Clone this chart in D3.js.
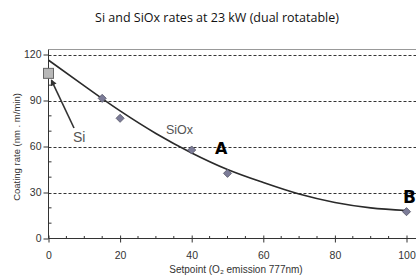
<!DOCTYPE html>
<html><head><meta charset="utf-8">
<script src="https://cdn.jsdelivr.net/npm/d3@7/dist/d3.min.js"></script>
<style>body{margin:0;background:#fff}svg{display:block}</style>
</head><body>
<svg id="c" width="416" height="277"></svg>
<script>
// Data
const siPoint = [{x: 0, y: 107.7}];
const siOxX = [15, 20, 40, 50, 100];
const siOxY = [91.4, 78.4, 57.7, 42.5, 17.5];
const fitX = [0, 10, 15, 20, 30, 40, 50, 60, 70, 80, 90, 100];
const fitY = [116.3, 99.5, 91.2, 83.2, 68.5, 55.8, 45, 36.5, 29, 23.5, 20, 18.3];
const xTicks = [0, 20, 40, 60, 80, 100];
const yTicks = [0, 30, 60, 90, 120];
const yGrid = [30, 60, 90, 120];
const xMinor = d3.range(0, 101, 5);
const yMinor = d3.range(0, 121, 10);

const svg = d3.select("#c");
const x = d3.scaleLinear().domain([0, 100]).range([48.5, 406.5]);
const y = d3.scaleLinear().domain([0, 120]).range([238.5, 54.5]);
const pLeft = 48.5, pRight = 416, pTop = 49.5;

// title
svg.append("text").attr("x", 217).attr("y", 22).attr("text-anchor", "middle")
  .attr("font-family", "Open Sans").attr("font-size", 12.5).attr("fill", "#111")
  .text("Si and SiOx rates at 23 kW (dual rotatable)");

// top border
svg.append("line").attr("x1", pLeft).attr("x2", pRight).attr("y1", pTop).attr("y2", pTop)
  .attr("stroke", "#999").attr("stroke-width", 1);

// gridlines
svg.append("g").selectAll("line").data(yGrid).join("line")
  .attr("x1", pLeft).attr("x2", pRight)
  .attr("y1", d => Math.round(y(d)) + 0.5).attr("y2", d => Math.round(y(d)) + 0.5)
  .attr("stroke", "#333").attr("stroke-dasharray", "3,2").attr("stroke-width", 1);

// y axis
const gy = svg.append("g").attr("transform", `translate(${pLeft},0)`)
  .call(d3.axisLeft(y).tickValues(yTicks).tickSize(5).tickPadding(2));
gy.select(".domain").attr("d", `M0,${pTop}V${y(0)}`).attr("stroke", "#333");
gy.selectAll(".tick line").attr("stroke", "#333");
gy.selectAll(".tick text").attr("font-family", "Arial, Liberation Sans").attr("font-size", 10.5).attr("fill", "#333");
svg.append("g").selectAll("line").data(yMinor.filter(d => !yTicks.includes(d))).join("line")
  .attr("x1", pLeft).attr("x2", pLeft + 3).attr("y1", d => y(d)).attr("y2", d => y(d))
  .attr("stroke", "#333");

// x axis
const gx = svg.append("g").attr("transform", `translate(0,${y(0)})`)
  .call(d3.axisBottom(x).tickValues(xTicks).tickSize(4).tickPadding(9));
gx.select(".domain").attr("d", `M${pLeft},0H${pRight}`).attr("stroke", "#333");
gx.selectAll(".tick line").attr("y1", -3).attr("stroke", "#333");
gx.selectAll(".tick text").attr("font-family", "Arial, Liberation Sans").attr("font-size", 10.5).attr("fill", "#333");
svg.append("g").selectAll("line").data(xMinor.filter(d => !xTicks.includes(d))).join("line")
  .attr("x1", d => x(d)).attr("x2", d => x(d)).attr("y1", y(0)).attr("y2", y(0) - 2.5)
  .attr("stroke", "#333");

// axis titles
svg.append("text").attr("transform", "translate(20,147) rotate(-90)").attr("text-anchor", "middle")
  .attr("font-family", "Arial, Liberation Sans").attr("font-size", 9.5).attr("fill", "#333")
  .text("Coating rate (nm . m/min)");
svg.append("text").attr("x", 236).attr("y", 273).attr("text-anchor", "middle")
  .attr("font-family", "Arial, Liberation Sans").attr("font-size", 10).attr("fill", "#333")
  .text("Setpoint (O₂ emission 777nm)");

// fit curve
const fit = fitX.map((d, i) => ({x: d, y: fitY[i]}));
svg.append("path").datum(fit)
  .attr("d", d3.line().x(d => x(d.x)).y(d => y(d.y)).curve(d3.curveMonotoneX))
  .attr("fill", "none").attr("stroke", "#2a2a2a").attr("stroke-width", 1.6);

// SiOx diamonds
const pts = siOxX.map((d, i) => ({x: d, y: siOxY[i]}));
svg.append("g").selectAll("path").data(pts).join("path")
  .attr("transform", d => `translate(${x(d.x)},${y(d.y)})`)
  .attr("d", d3.symbol(d3.symbolDiamond2, 42)())
  .attr("fill", "#7c7c98").attr("stroke", "#555566").attr("stroke-width", 0.8);

// Si square
svg.append("g").selectAll("rect").data(siPoint).join("rect")
  .attr("x", d => x(d.x) - 5).attr("y", d => y(d.y) - 5).attr("width", 10).attr("height", 10)
  .attr("fill", "#b8b8b8").attr("stroke", "#666").attr("stroke-width", 1);

// Si arrow
svg.append("defs").append("marker").attr("id", "ah").attr("viewBox", "0 0 10 10")
  .attr("refX", 8).attr("refY", 5).attr("markerWidth", 4).attr("markerHeight", 4).attr("orient", "auto")
  .append("path").attr("d", "M0,0L10,5L0,10z").attr("fill", "#333");
svg.append("line").attr("x1", 74).attr("y1", 128).attr("x2", x(0) + 3).attr("y2", y(siPoint[0].y) + 7)
  .attr("stroke", "#333").attr("stroke-width", 1.6).attr("marker-end", "url(#ah)");

// labels
svg.append("text").attr("x", 73).attr("y", 142).attr("font-family", "Arial, Liberation Sans")
  .attr("font-size", 14).attr("fill", "#555").text("Si");
svg.append("text").attr("x", 166).attr("y", 134).attr("font-family", "Arial, Liberation Sans")
  .attr("font-size", 12.5).attr("fill", "#555").text("SiOx");
svg.append("text").attr("x", 215).attr("y", 154).attr("font-family", "DejaVu Sans")
  .attr("font-size", 16).attr("font-weight", "bold").attr("fill", "#000").text("A");
svg.append("text").attr("x", 403).attr("y", 203).attr("font-family", "DejaVu Sans")
  .attr("font-size", 17).attr("font-weight", "bold").attr("fill", "#000").text("B");
</script>
</body></html>
